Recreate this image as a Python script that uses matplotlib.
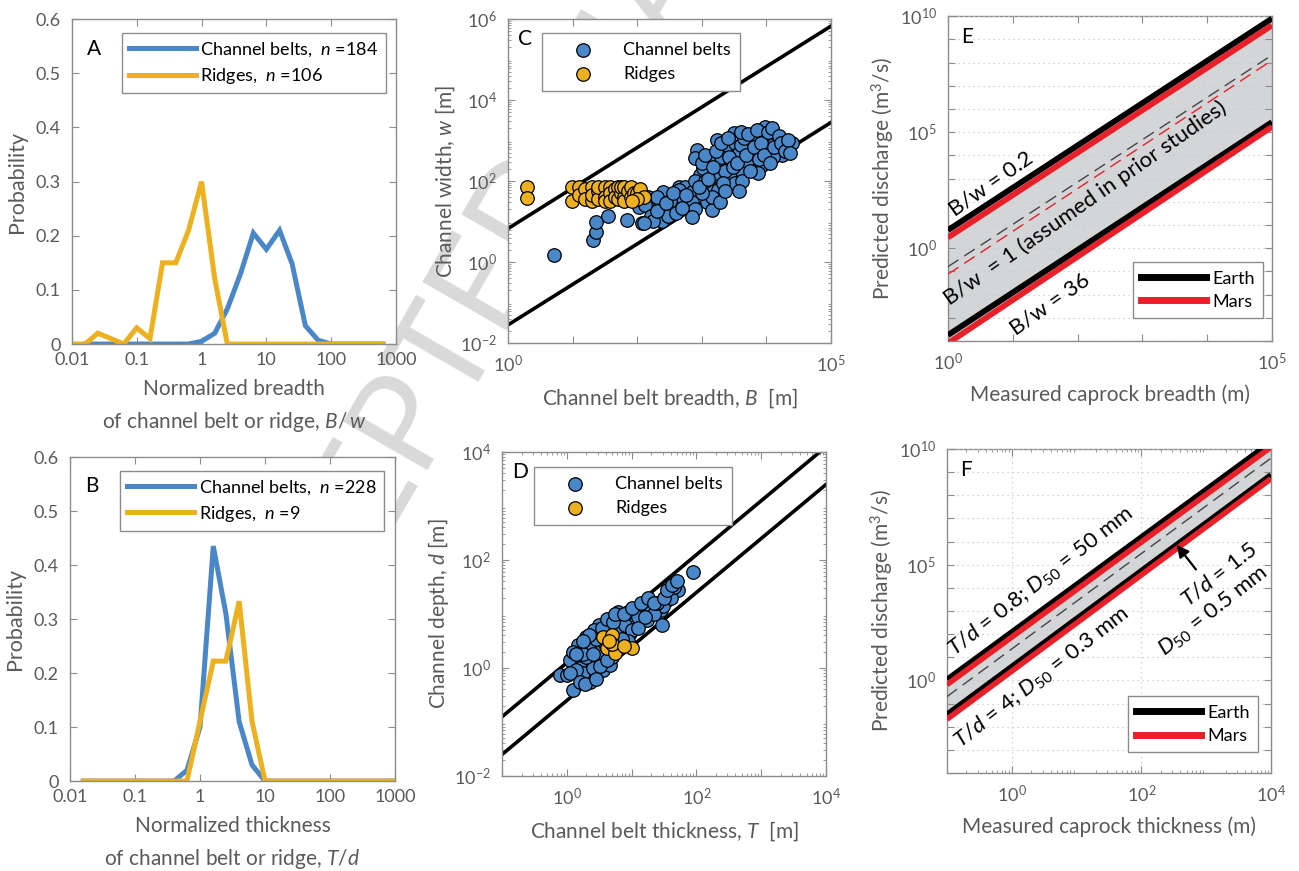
import matplotlib
matplotlib.use("Agg")
import matplotlib.pyplot as plt
import matplotlib.ticker as mticker
from matplotlib.lines import Line2D
import numpy as np

plt.rcParams['font.family'] = ['Lato', 'DejaVu Sans']
plt.rcParams['mathtext.fontset'] = 'custom'
plt.rcParams['mathtext.rm'] = 'Lato'
plt.rcParams['mathtext.it'] = 'Lato:italic'
plt.rcParams['mathtext.bf'] = 'Lato:bold'

BLUE = '#4a87c9'
GOLD = '#edb120'
RED = '#e8202a'
GRAY_TXT = '#5a5a5a'
GRAY_AX = '#8c8c8c'
FILL = '#d4d5d7'

# ---------------- data: histograms (A, B) ----------------
bins_A = [0.01, 0.016, 0.025, 0.04, 0.063, 0.1, 0.16, 0.25, 0.4, 0.63, 1, 1.6, 2.5,
          4, 6.3, 10, 16, 25, 40, 63, 100, 160, 250, 400, 630]
belts_A = [0, 0, 0, 0, 0, 0, 0, 0, 0, 0, 0.005, 0.02, 0.065, 0.13, 0.205, 0.175,
           0.21, 0.148, 0.034, 0.007, 0, 0, 0, 0, 0]
ridges_A = [0, 0, 0.02, 0.01, 0, 0.03, 0.01, 0.15, 0.15, 0.21, 0.30, 0.12, 0,
            0, 0, 0, 0, 0, 0, 0, 0, 0, 0, 0, 0]

bins_B = [0.016, 0.025, 0.04, 0.063, 0.1, 0.16, 0.25, 0.4, 0.63, 1, 1.6, 2.5, 4,
          6.3, 10, 16, 25, 40, 63, 100, 160, 250, 400, 630, 1000]
belts_B = [0, 0, 0, 0, 0, 0, 0, 0, 0.02, 0.10, 0.435, 0.31, 0.11, 0.03, 0,
           0, 0, 0, 0, 0, 0, 0, 0, 0, 0]
ridges_B = [0, 0, 0, 0, 0, 0, 0, 0, 0, 0.111, 0.222, 0.222, 0.333, 0.111, 0,
            0, 0, 0, 0, 0, 0, 0, 0, 0, 0]

# ---------------- data: C (breadth vs width) ----------------
belt_B = [5.2, 21, 23, 23, 35, 69, 105, 117, 166, 148, 132, 224, 251, 240, 363, 437,
          550, 660, 692, 933, 1200, 1350, 1410, 832, 776, 1050, 1350, 1780, 1900, 1700,
          2290, 2400, 3090, 3240, 3720, 3470, 3890, 5010, 5890, 6610, 6610, 9550, 10000,
          8510, 14500, 15100, 17400, 20400, 24500, 2750, 1410, 457, 302, 166, 178, 7410,
          3240, 1900, 437, 692, 126, 794, 1120, 1580, 2000, 2820, 3980, 5010, 7940, 11200,
          12600, 8910, 12600, 4470, 2240, 1000, 501, 316, 200, 794,
          200, 282, 355, 398, 501, 562, 891, 1000, 1120, 1260, 1510, 1660, 2000, 2090,
          2510, 2630, 3020, 3550, 3980, 4170, 4790, 5250, 5620, 6310, 7080, 7590, 8320,
          9120, 10500, 11200, 12000, 13200, 15800, 16600, 19100, 21400, 22900, 3800,
          2240, 708]
belt_w = [1.5, 3.5, 5.4, 9.5, 14, 11, 23, 9.1, 12, 41, 26, 26, 55, 10, 21, 72,
          72, 31, 55, 141, 31, 72, 19, 589, 363, 204, 331, 60, 117, 1020,
          589, 251, 1510, 851, 479, 79, 170, 646, 302, 437, 1230, 2190, 1020,
          251, 1120, 646, 437, 692, 851, 129, 41, 37, 14, 14, 10, 155,
          87, 31, 60, 31, 9.1, 100, 100, 158, 398, 316, 794, 316, 501, 794,
          398, 1260, 1580, 1120, 178, 50, 40, 32, 18, 20,
          40, 28, 50, 16, 22, 45, 71, 282, 447, 112, 224, 562, 891, 89,
          1120, 398, 224, 282, 1580, 100, 447, 1410, 178, 708, 1780, 355, 891,
          447, 1580, 282, 2000, 708, 1260, 891, 562, 1000, 501, 56,
          56, 12.6]
ridge_B = [1.95, 1.95, 9.8, 9.8, 12.6, 12.6, 15.8, 15.8, 20, 20, 20, 25, 25, 25, 32, 32,
           32, 38, 38, 38, 45, 45, 50, 50, 56, 56, 63, 63, 63, 71, 79, 79, 89, 98, 112,
           126, 100, 83]
ridge_w = [72, 39, 72, 32, 72, 46, 63, 35, 72, 32, 46, 56, 35, 72, 72, 40,
           32, 72, 50, 32, 63, 40, 72, 35, 50, 72, 40, 72, 32, 56, 72, 40, 50, 50, 63,
           40, 35, 32]
lineC_B = [1, 1e5]
lineC_upper = [6.7, 6.7e5]     # B/w = 0.15
lineC_lower = [0.028, 2800]    # B/w = 36

# ---------------- data: D (thickness vs depth) ----------------
belt_T = [89, 52, 39, 29, 20, 15, 11, 8.9, 6.6, 6.2, 4.7, 7.1, 3.1, 2.6, 2.0, 1.5,
          2.1, 1.35, 1.12, 0.79, 1.0, 1.26, 2.0, 2.3, 2.9, 3.6, 4.7, 4.9, 3.6, 2.75,
          3.9, 2.0, 1.7, 5.9, 9.5, 17, 28, 35, 31, 19, 1.6, 1.8, 1.4, 2.5, 3.2, 4.0,
          5.0, 7.9, 12.6, 22, 25, 40, 45, 2.2, 2.8, 2.0, 3.5, 10,
          1.26, 1.8, 2.5, 4.2, 5.2, 5.6, 7.6, 10, 14, 18, 22, 32, 35, 42, 50, 8.9,
          7.1, 1.12, 1.6, 1.9, 2.8, 3.3, 4.2, 2.2, 1.8, 1.4, 12.6, 16]
belt_d = [59, 28, 24, 6.3, 10, 13, 7.2, 11, 7.8, 11, 5.0, 5.0, 6.3, 5.0, 2.3, 2.7,
          1.3, 1.23, 1.4, 0.74, 0.74, 0.39, 0.71, 0.56, 0.81, 0.91, 1.15, 1.6, 1.6, 2.9,
          3.8, 3.8, 1.3, 4.7, 4.4, 7.8, 12, 18, 14, 14, 1.0, 0.8, 0.9, 1.0, 2.0, 2.5,
          3.2, 6.3, 8.9, 10, 16, 20, 32, 2.2, 3.5, 1.6, 5.6, 5.0,
          2.0, 1.8, 1.8, 7.9, 7.1, 10, 10, 13, 16, 20, 16, 20, 28, 35, 40, 3.2,
          3.5, 0.8, 0.56, 0.5, 0.63, 1.1, 1.4, 4.0, 3.2, 1.8, 5.6, 8.9]
ridge_T = [3.6, 4.9, 4.2, 6.5, 10.2, 5.5, 5.0, 7.6, 4.5]
ridge_d = [3.8, 4.0, 2.3, 2.3, 2.3, 1.9, 2.8, 2.5, 3.2]
lineD_T = [0.1, 1e4]
lineD_upper = [0.125, 1.25e4]  # T/d = 0.8
lineD_lower = [0.025, 2500]    # T/d = 4

# ---------------- data: E (discharge vs breadth) ----------------
E_B = [1, 1e5]
E_earth_02 = [6.0, 7.9e9]
E_mars_02 = [2.9, 4.0e9]
E_earth_1 = [0.16, 2.1e8]
E_mars_1 = [0.076, 1.25e8]
E_earth_36 = [1.8e-4, 2.7e5]
E_mars_36 = [8e-5, 1.7e5]

# ---------------- data: F (discharge vs thickness) ----------------
F_T = [0.1, 1e4]
F_earth_08 = [1.1, 2.0e10]
F_mars_08 = [0.66, 1.2e10]
F_earth_15 = [0.2, 4.0e9]
F_earth_4 = [0.034, 7.6e8]
F_mars_4 = [0.021, 5.2e8]


def style_axes(ax):
    ax.set_facecolor('white')
    for s in ax.spines.values():
        s.set_color(GRAY_AX)
        s.set_linewidth(1.0)
    ax.tick_params(which='both', direction='in', top=True, right=True,
                   colors=GRAY_AX, labelcolor=GRAY_TXT, labelsize=13)
    ax.tick_params(which='major', length=5, pad=8)
    ax.tick_params(which='minor', length=2.5)


def log_axis(axis, lo, hi, labeled, step=1):
    majors = [10.0 ** k for k in range(lo, hi + 1, step)]
    axis.set_major_locator(mticker.FixedLocator(majors))
    axis.set_minor_locator(mticker.LogLocator(base=10, subs=np.arange(2, 10), numticks=50))
    axis.set_minor_formatter(mticker.NullFormatter())

    def fmt(v, pos):
        e = int(round(np.log10(v)))
        return r'$10^{%d}$' % e if e in labeled else ''
    axis.set_major_formatter(mticker.FuncFormatter(fmt))


def boxed_legend(ax, *args, **kw):
    leg = ax.legend(*args, fancybox=False, framealpha=1, borderaxespad=0, **kw)
    leg.get_frame().set_edgecolor(GRAY_AX)
    leg.get_frame().set_linewidth(1.0)
    return leg


fig = plt.figure(figsize=(12.99, 8.71), dpi=100)

# watermark (behind all axes)
fig.text(0.19, 0.102, 'ACCEPTED MANUSCRIPT', fontsize=97, color='#d9d9d9',
         rotation=60, rotation_mode='anchor', ha='left', va='baseline', zorder=-5)

axA = fig.add_axes([0.0554, 0.605, 0.2494, 0.373])
axB = fig.add_axes([0.0539, 0.1033, 0.2502, 0.372])
axC = fig.add_axes([0.3911, 0.6062, 0.2487, 0.372])
axD = fig.add_axes([0.3865, 0.1091, 0.2494, 0.372])
axE = fig.add_axes([0.7298, 0.6085, 0.2494, 0.373])
axF = fig.add_axes([0.7290, 0.1125, 0.2494, 0.372])

# ---- A and B: histograms ----
for ax, bins, belts, ridges, nb, nr, xl, letter in [
        (axA, bins_A, belts_A, ridges_A, 184, 106,
         'Normalized breadth\nof channel belt or ridge, $B/\\,w$', 'A'),
        (axB, bins_B, belts_B, ridges_B, 228, 9,
         'Normalized thickness\nof channel belt or ridge, $T/d$', 'B')]:
    style_axes(ax)
    ax.set_xscale('log')
    start = 1 if ax is axA else 0
    ax.plot(bins[start:], belts[start:], color=BLUE, lw=3.6, solid_joinstyle='miter',
            label='Channel belts,  $n$ =%d' % nb)
    ax.plot(bins, ridges, color=GOLD, lw=3.6, solid_joinstyle='miter',
            label='Ridges,  $n$ =%d' % nr)
    ax.set_xlim(0.01, 1000)
    ax.set_ylim(0, 0.6)
    ax.xaxis.set_major_locator(mticker.FixedLocator([0.01, 0.1, 1, 10, 100, 1000]))
    ax.xaxis.set_major_formatter(mticker.FixedFormatter(['0.01', '0.1', '1', '10', '100', '1000']))
    ax.xaxis.set_minor_locator(mticker.NullLocator())
    ax.set_yticks([0, 0.1, 0.2, 0.3, 0.4, 0.5, 0.6])
    ax.set_yticklabels(['0', '0.1', '0.2', '0.3', '0.4', '0.5', '0.6'])
    ax.tick_params(axis='x', pad=6)
    ax.set_ylabel('Probability', fontsize=15.5, color=GRAY_TXT, labelpad=6)
    ax.set_xlabel(xl, fontsize=15, color=GRAY_TXT, linespacing=1.6, labelpad=8)
    ax.text(0.045, 0.94, letter, transform=ax.transAxes, fontsize=15, va='top')
    boxed_legend(ax, loc='upper left', bbox_to_anchor=(0.154, 0.958), fontsize=13,
                 handlelength=3.7, handletextpad=0.25, borderpad=0.4, labelspacing=0.4)

# ---- C and D: scatter ----
for ax, bx, by, rx, ry, lx, lu, ll, lims, letter, xl, yl, legpos in [
        (axC, belt_B, belt_w, ridge_B, ridge_w, lineC_B, lineC_upper, lineC_lower,
         ((1, 1e5), (1e-2, 1e6)), 'C', 'Channel belt breadth, $B$  [m]',
         'Channel width, $w$ [m]', (0.105, 0.957)),
        (axD, belt_T, belt_d, ridge_T, ridge_d, lineD_T, lineD_upper, lineD_lower,
         ((0.1, 1e4), (1e-2, 1e4)), 'D', 'Channel belt thickness, $T$  [m]',
         'Channel depth, $d$ [m]', (0.099, 0.954))]:
    style_axes(ax)
    ax.set_xscale('log')
    ax.set_yscale('log')
    ax.plot(lx, lu, color='black', lw=2.6, zorder=2)
    ax.plot(lx, ll, color='black', lw=2.6, zorder=2)
    ax.scatter(bx, by, s=95, c=BLUE, edgecolors='black', linewidths=0.9, zorder=3,
               label='Channel belts')
    ax.scatter(rx, ry, s=95, c=GOLD, edgecolors='black', linewidths=0.9, zorder=4,
               label='Ridges')
    ax.set_xlim(*lims[0])
    ax.set_ylim(*lims[1])
    ax.set_xlabel(xl, fontsize=15, color=GRAY_TXT, labelpad=8)
    ax.set_ylabel(yl, fontsize=15, color=GRAY_TXT, labelpad=2)
    ax.text(0.03, 0.97, letter, transform=ax.transAxes, fontsize=15, va='top')
    boxed_legend(ax, loc='upper left', bbox_to_anchor=legpos, fontsize=13,
                 handlelength=3.5, handletextpad=0.5, borderpad=0.5, labelspacing=0.45)

log_axis(axC.xaxis, 0, 5, {0, 5})
log_axis(axC.yaxis, -2, 6, {-2, 0, 2, 4, 6}, step=2)
axC.xaxis.set_minor_locator(mticker.NullLocator())
log_axis(axD.xaxis, -1, 4, {0, 2, 4})
log_axis(axD.yaxis, -2, 4, {-2, 0, 2, 4}, step=2)

# ---- E and F: discharge ----
style_axes(axE)
axE.set_xscale('log')
axE.set_yscale('log')
axE.fill_between(E_B, E_earth_02, E_mars_36, color=FILL, lw=0, zorder=1)
for yv, col in [(E_earth_02, 'black'), (E_mars_02, RED), (E_earth_36, 'black'), (E_mars_36, RED)]:
    axE.plot(E_B, yv, color=col, lw=4.2, zorder=3, solid_capstyle='butt')
axE.plot(E_B, E_earth_1, color='#444444', lw=1.0, dashes=(9, 5), zorder=3)
axE.plot(E_B, E_mars_1, color=RED, lw=1.0, dashes=(9, 5), zorder=3)
axE.set_xlim(1, 1e5)
axE.set_ylim(1e-4, 1e10)
log_axis(axE.xaxis, 0, 5, {0, 5})
axE.xaxis.set_minor_locator(mticker.NullLocator())
log_axis(axE.yaxis, -4, 10, {0, 5, 10})
axE.yaxis.set_minor_locator(mticker.NullLocator())
axE.grid(True, which='major', axis='y', color='#c8c8c8', ls=(0, (1, 3)), lw=0.9)
axE.set_axisbelow(False)
axE.set_xlabel('Measured caprock breadth (m)', fontsize=15, color=GRAY_TXT, labelpad=8)
axE.set_ylabel('Predicted discharge (m$^3$/s)', fontsize=15, color=GRAY_TXT, labelpad=2)
axE.text(0.04, 0.965, 'E', transform=axE.transAxes, fontsize=15, va='top')
axE.text(4.6, 6e2, 'B/w = 0.2', rotation=35, fontsize=16, ha='center', va='center', zorder=5)
axE.text(130, 9e1, 'B/w  = 1 (assumed in prior studies)', rotation=35, fontsize=16,
         ha='center', va='center', zorder=5)
axE.text(37, 4e-3, 'B/w = 36', rotation=35, fontsize=16, ha='center', va='center', zorder=5)
hE = [Line2D([], [], color='black', lw=5), Line2D([], [], color=RED, lw=5)]
boxed_legend(axE, hE, ['Earth', 'Mars'], loc='lower right', bbox_to_anchor=(0.972, 0.071),
             fontsize=13, handlelength=3.6, handletextpad=0.35, borderpad=0.45,
             labelspacing=0.4)

style_axes(axF)
axF.set_xscale('log')
axF.set_yscale('log')
axF.fill_between(F_T, F_earth_08, F_mars_4, color=FILL, lw=0, zorder=1)
for yv, col in [(F_earth_08, 'black'), (F_mars_08, RED), (F_earth_4, 'black'), (F_mars_4, RED)]:
    axF.plot(F_T, yv, color=col, lw=4.0, zorder=3, solid_capstyle='butt')
axF.plot(F_T, F_earth_15, color='#444444', lw=1.0, dashes=(9, 5), zorder=3)
axF.set_xlim(0.1, 1e4)
axF.set_ylim(1e-4, 1e10)
log_axis(axF.xaxis, 0, 4, {0, 2, 4}, step=2)
log_axis(axF.yaxis, -4, 10, {0, 5, 10})
axF.yaxis.set_minor_locator(mticker.NullLocator())
axF.grid(True, which='major', color='#c8c8c8', ls=(0, (1, 3)), lw=0.9)
axF.set_axisbelow(False)
axF.set_xlabel('Measured caprock thickness (m)', fontsize=15, color=GRAY_TXT, labelpad=8)
axF.set_ylabel('Predicted discharge (m$^3$/s)', fontsize=15, color=GRAY_TXT, labelpad=2)
axF.text(0.04, 0.965, 'F', transform=axF.transAxes, fontsize=15, va='top')
axF.text(2.8, 1.8e4, '$T/d$ = 0.8; $D_{50}$ = 50 mm', rotation=38, fontsize=16,
         ha='center', va='center', zorder=5)
axF.text(2.9, 1.3, '$T/d$ = 4; $D_{50}$ = 0.3 mm', rotation=38, fontsize=16,
         ha='center', va='center', zorder=5)
axF.text(1600, 3.7e4, '$T/d$ = 1.5', rotation=38, fontsize=16, ha='center',
         va='center', zorder=5)
axF.text(1300, 9.4e2, '$D_{50}$ = 0.5 mm', rotation=38, fontsize=16, ha='center',
         va='center', zorder=5)
axF.annotate('', xy=(330, 9e5), xytext=(740, 5e4),
             arrowprops=dict(arrowstyle='-|>', color='black', lw=1.6, mutation_scale=18),
             zorder=6)
hF = [Line2D([], [], color='black', lw=5), Line2D([], [], color=RED, lw=5)]
boxed_legend(axF, hF, ['Earth', 'Mars'], loc='lower right', bbox_to_anchor=(0.96, 0.065),
             fontsize=13, handlelength=3.6, handletextpad=0.35, borderpad=0.45,
             labelspacing=0.4)

fig.savefig('out.png', dpi=100)
